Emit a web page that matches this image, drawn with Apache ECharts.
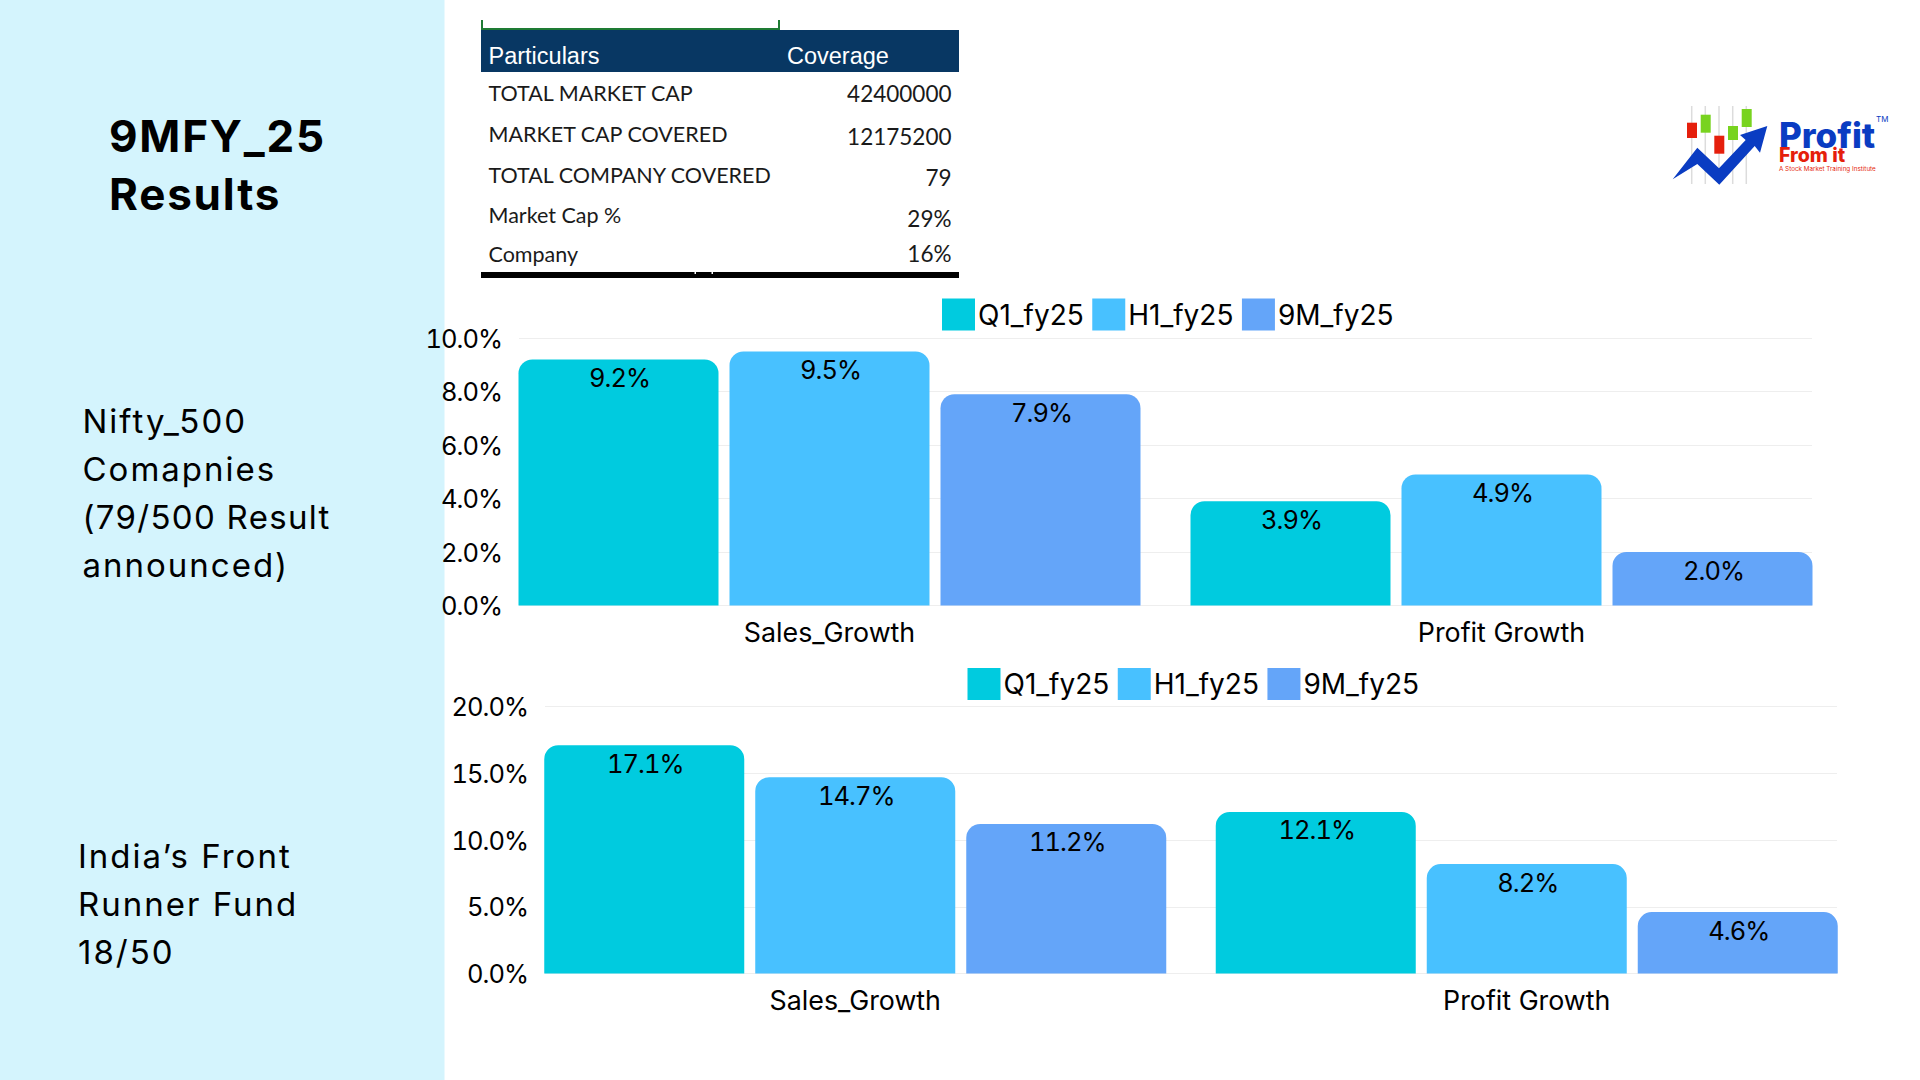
<!DOCTYPE html>
<html>
<head>
<meta charset="utf-8">
<title>9MFY_25 Results</title>
<script src="https://cdn.jsdelivr.net/npm/echarts@6/dist/echarts.min.js"></script>
<style>
  html, body { margin: 0; padding: 0; background: #fff; }
  #page { position: relative; width: 1920px; height: 1080px; overflow: hidden; }
  #main { position: absolute; left: 0; top: 0; width: 1920px; height: 1080px; }
  /* tick and value labels use tabular digits, narrower than Inter's default */
  #main text[style*="25.5px"] { font-feature-settings: "tnum"; letter-spacing: -1px; }
  .side { position: absolute; font-family: Inter, sans-serif; color: #000; white-space: pre; }
  .note { font-size: 33px; line-height: 48px; letter-spacing: 2px; }
  .head { font-size: 44px; line-height: 58px; font-weight: 700; letter-spacing: 1.8px; }
  .tight { letter-spacing: 1.3px; }
</style>
</head>
<body>
<div id="page">
  <div id="main"></div>
</div>
<script>
var categories = ['Sales_Growth', 'Profit Growth'];
var seriesNames = ['Q1_fy25', 'H1_fy25', '9M_fy25'];

// Nifty_500 chart
var niftyQ1 = [9.2, 3.9];
var niftyH1 = [9.5, 4.9];
var nifty9M = [7.9, 2.0];

// Front Runner Fund chart
var fundQ1 = [17.1, 12.1];
var fundH1 = [14.7, 8.2];
var fund9M = [11.2, 4.6];

// coverage table
var tableHeader = ['Particulars', 'Coverage'];
var tableLabels = ['TOTAL MARKET CAP', 'MARKET CAP COVERED', 'TOTAL COMPANY COVERED', 'Market Cap %', 'Company'];
var tableValues = ['42400000', '12175200', '79', '29%', '16%'];

// side panel
var headText = ['9MFY_25', 'Results'];
var niftyText = ['Nifty_500', 'Comapnies', '(79/500 Result', 'announced)'];
var fundText = ['India\u2019s Front', 'Runner Fund', '18/50'];

var colors = ['#00CBDF', '#48C1FF', '#64A5F9'];
var FONT = 'Inter';

function pct(v) { return v.toFixed(1) + '%'; }

function sideBlock(cls, x, y, lines) {
    var d = document.createElement('div');
    d.className = 'side ' + cls;
    d.style.left = x + 'px';
    d.style.top = y + 'px';
    lines.forEach(function (s) {
        var row = document.createElement('div');
        row.textContent = s;
        if (s.indexOf('/500') >= 0) row.className = 'tight';
        d.appendChild(row);
    });
    document.getElementById('page').appendChild(d);
}

function txt(x, y, s, size, weight, family, color) {
    return {
        type: 'text', x: x, y: y,
        style: {
            text: s, fill: color || '#000', fontFamily: family || FONT,
            fontSize: size, fontWeight: weight || 'normal',
            textVerticalAlign: 'bottom', lineHeight: size
        }
    };
}

var graphics = [
    { type: 'rect', z: -1, shape: { x: 0, y: 0, width: 444.5, height: 1080 }, style: { fill: '#D4F4FD' } },

    // table
    { type: 'polyline', shape: { points: [[482, 20], [482, 29], [779, 29], [779, 20]] }, style: { stroke: '#1E7B34', lineWidth: 2, fill: null } },
    { type: 'rect', shape: { x: 481, y: 30, width: 478, height: 42 }, style: { fill: '#083763' } },
    { type: 'rect', shape: { x: 481, y: 272, width: 478, height: 6 }, style: { fill: '#000' } },
    { type: 'rect', shape: { x: 694.5, y: 272, width: 1.5, height: 2 }, style: { fill: '#fff' } },
    { type: 'rect', shape: { x: 711.5, y: 272, width: 1.5, height: 2 }, style: { fill: '#fff' } },
    txt(488.5, 68, tableHeader[0], 23.5, 'normal', 'Liberation Sans', '#fff'),
    txt(787, 68, tableHeader[1], 23.5, 'normal', 'Liberation Sans', '#fff')
];

var labelBaselines = [104, 145, 186, 226, 265];
var valueBaselines = [105, 148, 189, 230, 265];
tableLabels.forEach(function (s, i) {
    graphics.push(txt(488.5, labelBaselines[i], s, 21.5, 'normal', 'Lato', '#1a1a1a'));
    var v = txt(951.5, valueBaselines[i], tableValues[i], 22.5, 'normal', 'Lato', '#1a1a1a');
    v.style.textAlign = 'right';
    graphics.push(v);
});

// logo
[1691.7, 1705.3, 1719, 1732.7, 1746.3].forEach(function (x) {
    graphics.push({ type: 'line', shape: { x1: x, y1: 106, x2: x, y2: 184 }, style: { stroke: '#dcdcdc', lineWidth: 1.5 } });
});
[[1687, 122.7, 10, 15.3, '#E51F0C'], [1700.7, 114.7, 10, 18, '#78D31F'], [1714.3, 135.7, 10, 18, '#E51F0C'],
 [1728, 126, 10, 14, '#78D31F'], [1741.7, 109, 10, 18, '#78D31F']].forEach(function (c) {
    graphics.push({ type: 'rect', shape: { x: c[0], y: c[1], width: c[2], height: c[3] }, style: { fill: c[4] } });
});
graphics.push({
    type: 'polygon',
    shape: { points: [[1672.7, 179.3], [1697.3, 147.7], [1719, 168.3], [1745.7, 140], [1740, 135], [1767.3, 126], [1760, 152.7], [1754.7, 146], [1719.3, 184.7], [1697.3, 164]] },
    style: { fill: '#0A3CC2' }
});
graphics.push(txt(1779, 152, 'Profit', 35, '800', 'Inter', '#0A3CC2'));
graphics.push(txt(1779, 165, 'From it', 19.5, '800', 'Inter', '#E51F0C'));
graphics.push(txt(1779, 172.5, 'A Stock Market Training Institute', 6.3, 'normal', 'Inter', '#E51F0C'));
graphics.push(txt(1876, 123, 'TM', 8, 'normal', 'Inter', '#0A3CC2'));

// each chart uses two grids: the outer one holds the axis lines, the wider one the bars,
// because the bars sit flush with the ends of the gridlines
function panel(ax, left, right, top, bottom, max, step, q1, h1, m9, legendLeft, legendTop) {
    var half = 25.5;
    var xi = ax.grid.length;
    var yi = ax.yAxis.length;
    ax.grid.push({ left: left, width: right - left, top: top, height: bottom - top });
    ax.grid.push({ left: left - half, width: right - left + 2 * half, top: top, height: bottom - top });

    ax.xAxis.push({ type: 'category', gridIndex: xi, data: categories, show: false });
    ax.xAxis.push({
        type: 'category', gridIndex: xi + 1, data: categories,
        axisLine: { show: false }, axisTick: { show: false },
        axisLabel: { color: '#000', fontFamily: FONT, fontSize: 26.8, margin: 13 }
    });
    ax.yAxis.push({
        type: 'value', gridIndex: xi, min: 0, max: max, interval: step,
        axisLine: { show: false }, axisTick: { show: false },
        axisLabel: { color: '#000', fontFamily: FONT, fontSize: 25.5, margin: 17, padding: [4, 0, 0, 0], formatter: pct },
        splitLine: { lineStyle: { color: '#EEEEEE', width: 1 } }
    });
    ax.yAxis.push({ type: 'value', gridIndex: xi + 1, min: 0, max: max, interval: step, show: false, splitLine: { show: false } });

    [q1, h1, m9].forEach(function (vals, i) {
        ax.series.push({
            name: seriesNames[i], type: 'bar', xAxisIndex: xi + 1, yAxisIndex: yi + 1,
            data: vals, barWidth: 200, barGap: '5.5%',
            itemStyle: { color: colors[i], borderRadius: [14, 14, 0, 0] },
            label: {
                show: true, position: 'insideTop', distance: 5, offset: [1, 0], color: '#000',
                fontFamily: FONT, fontSize: 25.5,
                formatter: function (p) { return pct(p.value); }
            },
            animation: false
        });
    });
    ax.legend.push({
        data: seriesNames, left: legendLeft, top: legendTop,
        itemWidth: 33, itemHeight: 32, itemGap: 8.5, icon: 'rect',
        textStyle: { color: '#000', fontFamily: FONT, fontSize: 28, padding: [0, 0, 5, -2] }
    });
}

var option = { animation: false, grid: [], xAxis: [], yAxis: [], series: [], legend: [], graphic: { elements: graphics } };
panel(option, 519, 1812, 338, 605.5, 10, 2, niftyQ1, niftyH1, nifty9M, 937, 293.5);
panel(option, 545, 1837, 706.5, 973.5, 20, 5, fundQ1, fundH1, fund9M, 962.5, 663);

var chart = echarts.init(document.getElementById('main'), null, { renderer: 'svg' });
chart.setOption(option);

sideBlock('head', 109, 107, headText);
sideBlock('note', 82.5, 397, niftyText);
sideBlock('note', 78, 832, fundText);
</script>
</body>
</html>
